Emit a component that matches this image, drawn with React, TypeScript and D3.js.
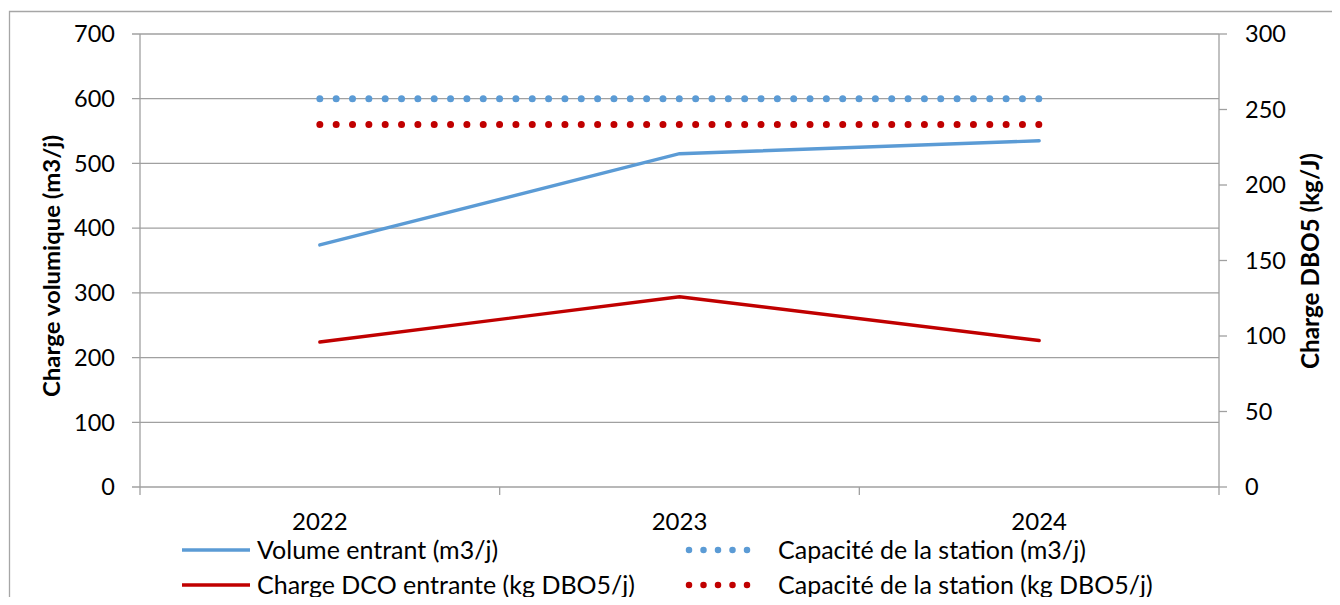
import React from "react";
import * as d3 from "d3";

const years = ["2022", "2023", "2024"];
const volumeEntrant = [374, 515, 535];
const capaciteVolume = [600, 600, 600];
const chargeDCO = [96, 126, 97];
const capaciteDBO5 = [240, 240, 240];
const leftTicks = [0, 100, 200, 300, 400, 500, 600, 700];
const rightTicks = [0, 50, 100, 150, 200, 250, 300];

const BLUE = "#5B9BD5";
const RED = "#C00000";
const GRID = "#A0A0A0";
const FONT = "Lato, 'Open Sans', sans-serif";

export default function App() {
  const W = 1340, H = 605;
  const left = 140, right = 1219, top = 34, bottom = 487;
  const x = d3.scaleBand<string>().domain(years).range([left, right]);
  const yL = d3.scaleLinear().domain([0, 700]).range([bottom, top]);
  const yR = d3.scaleLinear().domain([0, 300]).range([bottom, top]);
  const cx = (d: string) => (x(d) as number) + x.bandwidth() / 2;

  const lineL = d3.line<number>().x((_, i) => cx(years[i])).y((v) => yL(v));
  const lineR = d3.line<number>().x((_, i) => cx(years[i])).y((v) => yR(v));

  const boundaries = [...years.map((d) => x(d) as number), right];
  const dotDash = "0 16.34";

  return (
    <div style={{ margin: -8 }}>
      <svg width={W} height={H} style={{ display: "block", fontFamily: FONT }}>
        <rect x={0} y={0} width={W} height={H} fill="#fff" />
        {/* outer border */}
        <path d={`M9.5,${H} V11.5 H${W}`} fill="none" stroke="#A6A6A6" strokeWidth={1.3} />
        {/* gridlines */}
        {leftTicks.map((t) => (
          <line key={"g" + t} x1={left - 8} x2={right} y1={yL(t)} y2={yL(t)} stroke={GRID} strokeWidth={1.3} />
        ))}
        {/* left axis */}
        <line x1={left} x2={left} y1={top} y2={bottom} stroke={GRID} strokeWidth={1.3} />
        {leftTicks.map((t) => (
          <text key={"l" + t} x={left - 25} y={yL(t)} dy="0.35em" textAnchor="end" fontSize={23.5} fill="#000">
            {t}
          </text>
        ))}
        {/* right axis */}
        <line x1={right} x2={right} y1={top} y2={bottom} stroke={GRID} strokeWidth={1.3} />
        {rightTicks.map((t) => (
          <g key={"r" + t}>
            <line x1={right} x2={right + 8} y1={yR(t)} y2={yR(t)} stroke={GRID} strokeWidth={1.3} />
            <text x={right + 26} y={yR(t)} dy="0.35em" textAnchor="start" fontSize={23.5} fill="#000">
              {t}
            </text>
          </g>
        ))}
        {/* x axis ticks */}
        {boundaries.map((b, i) => (
          <line key={"xt" + i} x1={b} x2={b} y1={bottom} y2={bottom + 8} stroke={GRID} strokeWidth={1.3} />
        ))}
        {years.map((d) => (
          <text key={"x" + d} x={cx(d)} y={522} dy="0.35em" textAnchor="middle" fontSize={24} fill="#000">
            {d}
          </text>
        ))}
        {/* axis titles */}
        <text transform={`translate(52,266) rotate(-90)`} textAnchor="middle" dy="0.35em" fontSize={23} fontWeight="bold" fill="#000" textLength={262} lengthAdjust="spacingAndGlyphs">
          Charge volumique (m3/j)
        </text>
        <text transform={`translate(1311,261) rotate(-90)`} textAnchor="middle" dy="0.35em" fontSize={24} fontWeight="bold" fill="#000" textLength={216} lengthAdjust="spacingAndGlyphs">
          Charge DBO5 (kg/J)
        </text>
        {/* series */}
        <path d={lineL(capaciteVolume) as string} fill="none" stroke={BLUE} strokeWidth={7} strokeLinecap="round" strokeDasharray={dotDash} />
        <path d={lineR(capaciteDBO5) as string} fill="none" stroke={RED} strokeWidth={7} strokeLinecap="round" strokeDasharray={dotDash} />
        <path d={lineL(volumeEntrant) as string} fill="none" stroke={BLUE} strokeWidth={3.4} strokeLinecap="round" />
        <path d={lineR(chargeDCO) as string} fill="none" stroke={RED} strokeWidth={3.4} strokeLinecap="round" />
        {/* legend */}
        <g fontSize={25} fill="#000">
          <line x1={182} x2={250} y1={550} y2={550} stroke={BLUE} strokeWidth={3.4} />
          <text x={257} y={550} dy="0.35em">Volume entrant (m3/j)</text>
          <line x1={182} x2={250} y1={585} y2={585} stroke={RED} strokeWidth={3.4} />
          <text x={257} y={585} dy="0.35em">Charge DCO entrante (kg DBO5/j)</text>
          <line x1={689} x2={747.5} y1={550} y2={550} stroke={BLUE} strokeWidth={6.5} strokeLinecap="round" strokeDasharray="0 14.5" />
          <text x={778} y={550} dy="0.35em">Capacité de la station (m3/j)</text>
          <line x1={689} x2={747.5} y1={585} y2={585} stroke={RED} strokeWidth={6.5} strokeLinecap="round" strokeDasharray="0 14.5" />
          <text x={778} y={585} dy="0.35em">Capacité de la station (kg DBO5/j)</text>
        </g>
      </svg>
    </div>
  );
}
